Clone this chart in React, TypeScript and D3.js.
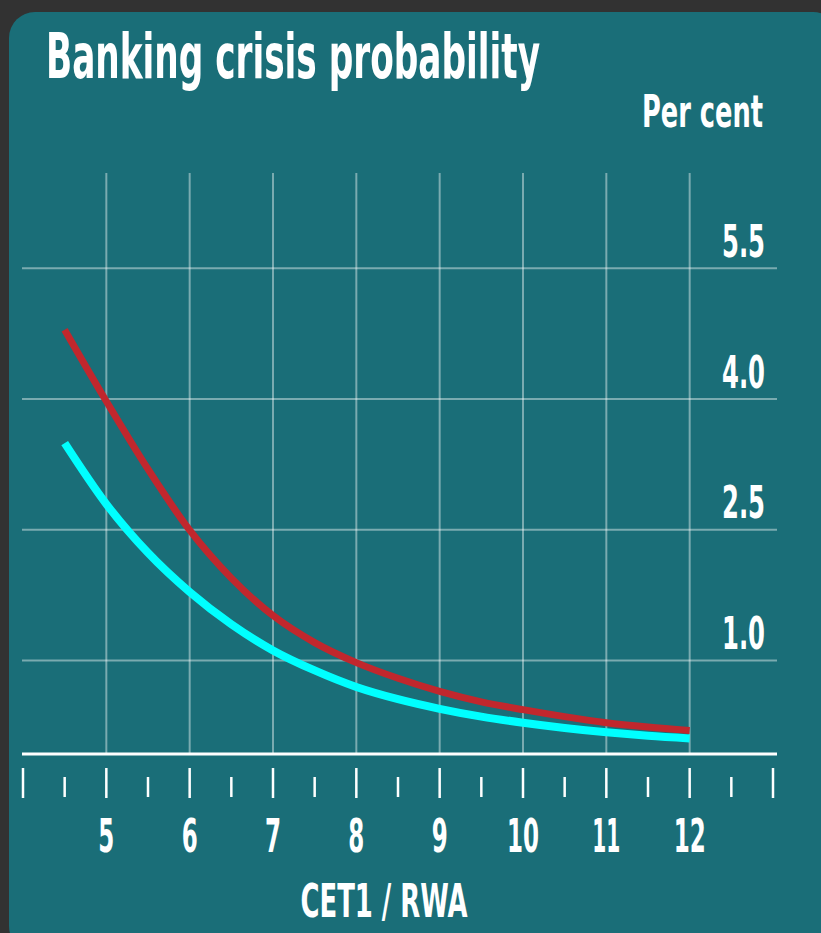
import React from "react";
import * as d3 from "d3";

// CET1 / RWA values (x) and crisis probability, per cent
const ratios = [4.5, 5, 5.5, 6, 6.5, 7, 7.5, 8, 8.5, 9, 9.5, 10, 10.5, 11, 11.5, 12];
const redSeries = [4.8, 3.98, 3.2, 2.5, 1.95, 1.52, 1.21, 0.98, 0.8, 0.65, 0.53, 0.44, 0.36, 0.29, 0.24, 0.2];
const cyanSeries = [3.5, 2.8, 2.24, 1.79, 1.42, 1.12, 0.89, 0.7, 0.56, 0.45, 0.36, 0.29, 0.23, 0.18, 0.14, 0.11];

const xTicks = [5, 6, 7, 8, 9, 10, 11, 12];
const xTickWidths = [16, 16, 16, 16, 16, 32, 28, 32];
const yTicks = [1.0, 2.5, 4.0, 5.5];

const W = 821;
const H = 933;
const FONT = "'Liberation Sans Narrow', 'DejaVu Sans Condensed', 'Roboto Condensed', 'Liberation Sans', sans-serif";

const App: React.FC = () => {
    const x = d3.scaleLinear().domain([4, 13]).range([23, 773]);
    const y = d3.scaleLinear().domain([0, 6.6]).range([748, 173]);

    const line = d3
        .line<number>()
        .x((_, i) => x(ratios[i]))
        .y(d => y(d))
        .curve(d3.curveMonotoneX);

    const baseY = 754;
    const majors = d3.range(4, 13.01, 1);
    const minors = d3.range(4.5, 13, 1);

    return (
        <svg width={W} height={H} style={{ position: "absolute", left: 0, top: 0 }}>
            <rect width={W} height={H} fill="#323232" />
            <rect x={9} y={12} width={830} height={940} rx={26} fill="#1a6e78" />

            {/* grid */}
            {xTicks.map(t => (
                <line key={"vg" + t} x1={x(t)} x2={x(t)} y1={y(6.6)} y2={baseY}
                    stroke="#fff" strokeOpacity={0.42} strokeWidth={2} />
            ))}
            {yTicks.map(t => (
                <line key={"hg" + t} x1={22} x2={777} y1={y(t) - 0.5} y2={y(t) - 0.5}
                    stroke="#fff" strokeOpacity={0.42} strokeWidth={2} />
            ))}

            {/* series */}
            <path d={line(redSeries) ?? ""} fill="none" stroke="#c1272d" strokeWidth={7} />
            <path d={line(cyanSeries) ?? ""} fill="none" stroke="#00ffff" strokeWidth={8} />

            {/* baseline and ticks */}
            <line x1={22} x2={777} y1={baseY} y2={baseY} stroke="#fff" strokeWidth={3} />
            {majors.map(t => (
                <line key={"mj" + t} x1={x(t)} x2={x(t)} y1={768} y2={798} stroke="#fff" strokeWidth={2.5} />
            ))}
            {minors.map(t => (
                <line key={"mn" + t} x1={x(t)} x2={x(t)} y1={777} y2={797} stroke="#fff" strokeWidth={2.5} />
            ))}

            <g fill="#fff" fontFamily={FONT} fontWeight="bold">
                <text x={46} y={78} fontSize={62} textLength={494} lengthAdjust="spacingAndGlyphs">
                    Banking crisis probability
                </text>
                <text x={763} y={127} fontSize={45} textAnchor="end" textLength={121} lengthAdjust="spacingAndGlyphs">
                    Per cent
                </text>
                {yTicks.map(t => (
                    <text key={"yl" + t} x={765} y={y(t) - 12} fontSize={44} textAnchor="end"
                        textLength={43} lengthAdjust="spacingAndGlyphs">
                        {t.toFixed(1)}
                    </text>
                ))}
                {xTicks.map((t, i) => (
                    <text key={"xl" + t} x={x(t)} y={852} fontSize={46} textAnchor="middle"
                        textLength={xTickWidths[i]} lengthAdjust="spacingAndGlyphs">
                        {t}
                    </text>
                ))}
                <text x={384} y={917} fontSize={46} textAnchor="middle" textLength={167} lengthAdjust="spacingAndGlyphs">
                    CET1 / RWA
                </text>
            </g>
        </svg>
    );
};

export default App;
